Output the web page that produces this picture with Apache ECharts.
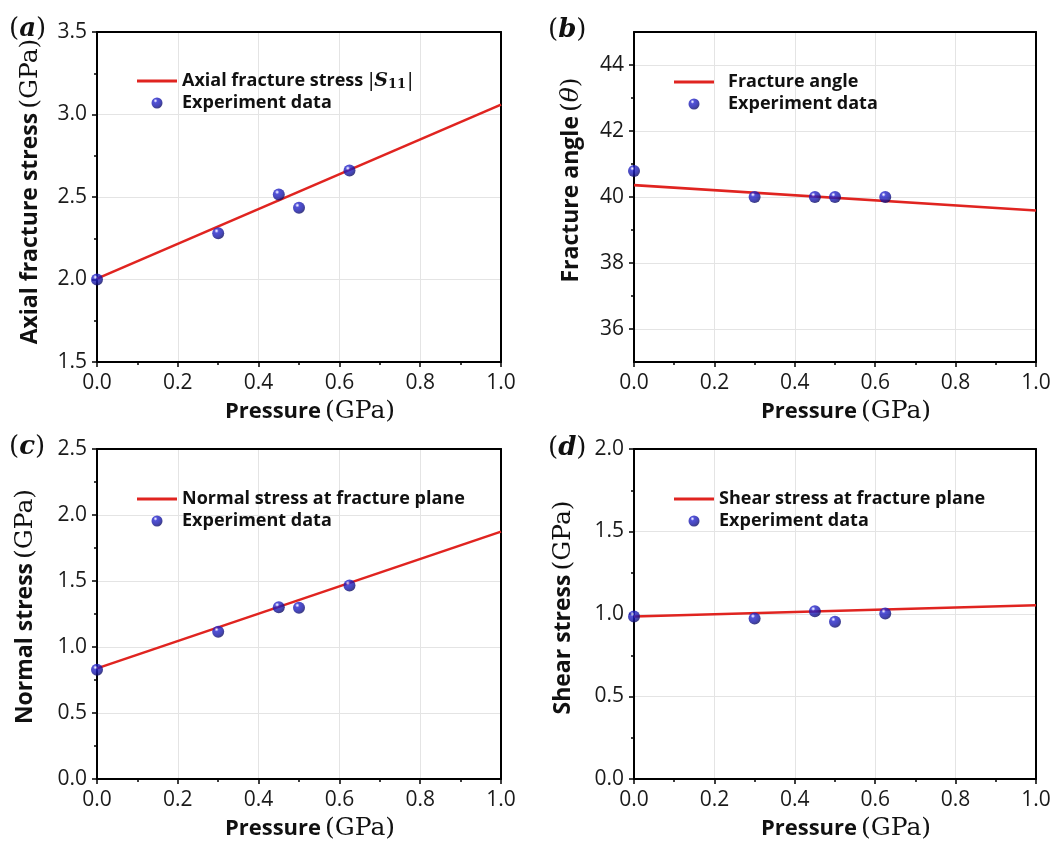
<!DOCTYPE html>
<html>
<head>
<meta charset="utf-8">
<script src="https://cdn.jsdelivr.net/npm/echarts@6/dist/echarts.min.js"></script>
<style>
  html, body { margin: 0; padding: 0; background: #ffffff; }
  #chart { width: 1063px; height: 843px; }
</style>
</head>
<body>
<div id="chart"></div>
<script>
// Confining pressure of each experiment (GPa)
const pressure = [0, 0.3, 0.45, 0.5, 0.625];
// Model curves are straight lines evaluated at these pressures
const fitPressure = [0, 1.0];

// (a) axial fracture stress |S11| (GPa)
const axialStress = [2.0, 2.28, 2.515, 2.435, 2.66];
const axialFit = [2.005, 3.06];
// (b) fracture angle (degrees)
const fractureAngle = [40.79, 40.0, 40.0, 40.0, 40.0];
const angleFit = [40.36, 39.59];
// (c) normal stress on the fracture plane (GPa)
const normalStress = [0.827, 1.115, 1.302, 1.297, 1.466];
const normalFit = [0.838, 1.874];
// (d) shear stress on the fracture plane (GPa)
const shearStress = [0.985, 0.973, 1.017, 0.953, 1.003];
const shearFit = [0.985, 1.053];

// Tick values
const xTicks = [0, 0.2, 0.4, 0.6, 0.8, 1.0];
const xMinorTicks = [0.1, 0.3, 0.5, 0.7, 0.9];
const axialTicks = [1.5, 2.0, 2.5, 3.0, 3.5];
const axialMinorTicks = [1.75, 2.25, 2.75, 3.25];
const angleTicks = [36, 38, 40, 42, 44];
const angleMinorTicks = [37, 39, 41, 43];
const normalTicks = [0.0, 0.5, 1.0, 1.5, 2.0, 2.5];
const normalMinorTicks = [0.25, 0.75, 1.25, 1.75, 2.25];
const shearTicks = [0.0, 0.5, 1.0, 1.5, 2.0];
const shearMinorTicks = [0.25, 0.75, 1.25, 1.75];

const SANS = 'Open Sans';
const SERIF = 'DejaVu Serif';
const AXIS_COLOR = '#000000';
const GRID_COLOR = '#e4e4e4';
const FIT_COLOR = '#e02420';

function titleRich(size) {
  return {
    b: { fontFamily: SANS, fontWeight: 'bold', fontSize: size, color: '#111' },
    s: { fontFamily: SERIF, fontSize: 25, color: '#111', padding: [0, 0, 0, 4] },
    s2: { fontFamily: SERIF, fontSize: 25, color: '#111' },
    i: { fontFamily: SERIF, fontStyle: 'italic', fontSize: 25, color: '#111' }
  };
}

function legendRich(pad) {
  return {
    t: { fontFamily: SANS, fontWeight: 'bold', fontSize: 18, color: '#111', lineHeight: 20, padding: [0, 0, 0, pad] },
    m: { fontFamily: SERIF, fontSize: 19, color: '#111', lineHeight: 20 },
    si: { fontFamily: SERIF, fontStyle: 'italic', fontWeight: 'bold', fontSize: 19, color: '#111', lineHeight: 20 },
    sub: { fontFamily: SERIF, fontWeight: 'bold', fontSize: 13, color: '#111', lineHeight: 20, verticalAlign: 'bottom', padding: [7, 1, 0, 0] }
  };
}

const panels = [
  {
    tag: 'a', grid: { left: 97, top: 32, width: 404, height: 330 },
    yMin: 1.5, yMax: 3.5, yTicks: axialTicks, yMinor: axialMinorTicks, yDigits: 1,
    yName: '{b|Axial fracture stress}{s|(GPa)}', yNameGap: 54, yNameShift: 11,
    lineName: 'Axial fracture stress |S11|',
    lineText: '{t|Axial fracture stress }{m||}{si|S}{sub|11}{m||}',
    values: axialStress, fit: axialFit,
    legendPos: { left: 137, top: 71 }, legendPad: 0,
    labelPos: [9, 16]
  },
  {
    tag: 'b', grid: { left: 634, top: 32, width: 402, height: 330 },
    yMin: 35, yMax: 45, yTicks: angleTicks, yMinor: angleMinorTicks, yDigits: 0,
    yName: '{b|Fracture angle}{s|(}{i|θ}{s2|)}', yNameGap: 50, yNameShift: 34,
    lineName: 'Fracture angle',
    lineText: '{t|Fracture angle}',
    values: fractureAngle, fit: angleFit,
    legendPos: { left: 674, top: 72 }, legendPad: 9,
    labelPos: [548, 17]
  },
  {
    tag: 'c', grid: { left: 97, top: 449, width: 404, height: 330 },
    yMin: 0, yMax: 2.5, yTicks: normalTicks, yMinor: normalMinorTicks, yDigits: 1,
    yName: '{b|Normal stress}{s|(GPa)}', yNameGap: 59, yNameShift: 15,
    lineName: 'Normal stress at fracture plane',
    lineText: '{t|Normal stress at fracture plane}',
    values: normalStress, fit: normalFit,
    legendPos: { left: 137, top: 489 }, legendPad: 0,
    labelPos: [9, 434]
  },
  {
    tag: 'd', grid: { left: 634, top: 449, width: 402, height: 330 },
    yMin: 0, yMax: 2.0, yTicks: shearTicks, yMinor: shearMinorTicks, yDigits: 1,
    yName: '{b|Shear stress}{s|(GPa)}', yNameGap: 58, yNameShift: 13,
    lineName: 'Shear stress at fracture plane',
    lineText: '{t|Shear stress at fracture plane}',
    values: shearStress, fit: shearFit,
    legendPos: { left: 674, top: 489 }, legendPad: 0,
    labelPos: [548, 435]
  }
];

// shaded sphere look for the experiment markers
const sphere = {
  type: 'radial', x: 0.36, y: 0.3, r: 0.75,
  colorStops: [
    { offset: 0, color: '#ffffff' },
    { offset: 0.07, color: '#c8c8ff' },
    { offset: 0.24, color: '#2626cc' },
    { offset: 0.65, color: '#1818a8' },
    { offset: 1, color: '#0a0a58' }
  ]
};

// thin bar used as the legend swatch of the fitted lines
const LINE_ICON = 'path://M0,0H40V3H0Z';

const labelFont = { fontFamily: SANS, fontSize: 21, color: '#1a1a1a' };
const grids = [], xAxes = [], yAxes = [], series = [], legends = [], graphics = [];

panels.forEach((p, k) => {
  grids.push(Object.assign({ containLabel: false }, p.grid));

  // bottom axis: line, major ticks, labels, vertical grid lines
  const xMain = xAxes.length;
  xAxes.push({
    gridIndex: k, type: 'value', position: 'bottom', min: 0, max: 1.0, interval: 0.2,
    axisLine: { show: true, onZero: false, lineStyle: { color: AXIS_COLOR, width: 2 } },
    axisTick: { show: true, customValues: xTicks, length: 5, lineStyle: { color: AXIS_COLOR, width: 1.5 } },
    axisLabel: Object.assign({ customValues: xTicks, margin: 11, formatter: v => v.toFixed(1) }, labelFont),
    splitLine: { show: true, lineStyle: { color: GRID_COLOR, width: 1 } },
    name: '{b|Pressure}{s|(GPa)}', nameLocation: 'middle', nameGap: 37,
    nameTextStyle: { rich: titleRich(22), padding: [0, 0, 0, 22] }
  });
  // bottom axis minor ticks
  xAxes.push({
    gridIndex: k, type: 'value', position: 'bottom', min: 0, max: 1.0,
    axisLine: { show: false },
    axisTick: { show: true, customValues: xMinorTicks, length: 3, lineStyle: { color: AXIS_COLOR, width: 1.5 } },
    axisLabel: { show: false }, splitLine: { show: false }
  });
  // top frame edge
  xAxes.push({
    gridIndex: k, type: 'value', position: 'top', min: 0, max: 1.0,
    axisLine: { show: true, onZero: false, lineStyle: { color: AXIS_COLOR, width: 2 } },
    axisTick: { show: false }, axisLabel: { show: false }, splitLine: { show: false }
  });

  // left axis: line, major ticks, labels, horizontal grid lines
  const yMain = yAxes.length;
  yAxes.push({
    gridIndex: k, type: 'value', position: 'left', min: p.yMin, max: p.yMax,
    axisLine: { show: true, onZero: false, lineStyle: { color: AXIS_COLOR, width: 2 } },
    axisTick: { show: true, customValues: p.yTicks, length: 5, lineStyle: { color: AXIS_COLOR, width: 1.5 } },
    axisLabel: Object.assign({ customValues: p.yTicks, margin: 10, formatter: v => v.toFixed(p.yDigits) }, labelFont),
    splitLine: { show: true, lineStyle: { color: GRID_COLOR, width: 1 } },
    name: p.yName, nameLocation: 'middle', nameRotate: 90, nameGap: p.yNameGap,
    nameTextStyle: { rich: titleRich(23), padding: [0, 0, 0, p.yNameShift] }
  });
  // left axis minor ticks
  yAxes.push({
    gridIndex: k, type: 'value', position: 'left', min: p.yMin, max: p.yMax,
    axisLine: { show: false },
    axisTick: { show: true, customValues: p.yMinor, length: 3, lineStyle: { color: AXIS_COLOR, width: 1.5 } },
    axisLabel: { show: false }, splitLine: { show: false }
  });
  // right frame edge
  yAxes.push({
    gridIndex: k, type: 'value', position: 'right', min: p.yMin, max: p.yMax,
    axisLine: { show: true, onZero: false, lineStyle: { color: AXIS_COLOR, width: 2 } },
    axisTick: { show: false }, axisLabel: { show: false }, splitLine: { show: false }
  });

  series.push({
    name: p.lineName, type: 'line', xAxisIndex: xMain, yAxisIndex: yMain,
    data: fitPressure.map((x, j) => [x, p.fit[j]]),
    symbol: 'none', clip: false, z: 3,
    lineStyle: { color: FIT_COLOR, width: 2.6 }, itemStyle: { color: FIT_COLOR }
  });
  series.push({
    name: 'Experiment data', type: 'scatter', xAxisIndex: xMain, yAxisIndex: yMain,
    data: pressure.map((x, j) => [x, p.values[j]]),
    symbol: 'circle', symbolSize: 12, clip: false, z: 4,
    itemStyle: { color: sphere }
  });

  legends.push({
    left: p.legendPos.left, top: p.legendPos.top, orient: 'vertical',
    padding: 0, itemGap: 2, itemWidth: 40, itemHeight: 11,
    selectedMode: false,
    data: [
      { name: p.lineName, icon: LINE_ICON, itemStyle: { color: FIT_COLOR } },
      { name: 'Experiment data', icon: 'circle' }
    ],
    formatter: name => name === 'Experiment data' ? '{t|Experiment data}' : p.lineText,
    textStyle: { rich: legendRich(p.legendPad), lineHeight: 20 }
  });

  graphics.push({
    type: 'text', left: p.labelPos[0], top: p.labelPos[1],
    style: {
      text: '{p|(}{l|' + p.tag + '}{p|)}',
      rich: {
        p: { fontFamily: SERIF, fontSize: 26, fill: '#111' },
        l: { fontFamily: SERIF, fontSize: 26, fontStyle: 'italic', fontWeight: 'bold', fill: '#111' }
      }
    }
  });
});

const chart = echarts.init(document.getElementById('chart'), null, { renderer: 'canvas' });
chart.setOption({
  backgroundColor: '#ffffff',
  animation: false,
  grid: grids,
  xAxis: xAxes,
  yAxis: yAxes,
  legend: legends,
  series: series,
  graphic: graphics
});
</script>
</body>
</html>
